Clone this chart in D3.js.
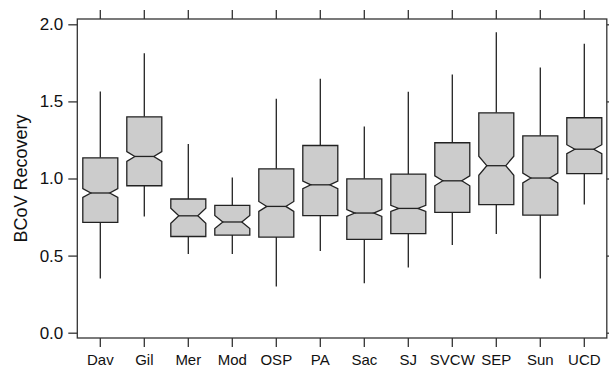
<!DOCTYPE html>
<html>
<head>
<meta charset="utf-8">
<script src="https://cdn.jsdelivr.net/npm/d3@7"></script>
<style>
  html, body { margin: 0; padding: 0; background: #fff; }
  svg { display: block; }
  text { font-family: "Liberation Sans", Arial, Helvetica, sans-serif; fill: #111; }
</style>
</head>
<body>
<svg id="chart" width="609" height="368"></svg>
<script>
const categories  = ["Dav","Gil","Mer","Mod","OSP","PA","Sac","SJ","SVCW","SEP","Sun","UCD"];
const whiskerLow  = [0.352,0.754,0.510,0.510,0.300,0.530,0.320,0.423,0.568,0.640,0.352,0.832];
const q1          = [0.715,0.953,0.624,0.633,0.620,0.759,0.605,0.642,0.780,0.830,0.763,1.031];
const median      = [0.906,1.143,0.758,0.718,0.819,0.959,0.776,0.806,0.985,1.083,1.003,1.190];
const q3          = [1.134,1.400,0.867,0.826,1.063,1.214,0.998,1.029,1.232,1.426,1.277,1.394];
const whiskerHigh = [1.564,1.813,1.223,1.007,1.517,1.647,1.337,1.562,1.675,1.949,1.720,1.874];
const notchHalf   = [0.028,0.032,0.049,0.042,0.032,0.025,0.022,0.020,0.032,0.062,0.032,0.029];
const yTicks      = [0.0, 0.5, 1.0, 1.5, 2.0];
const yLabel      = "BCoV Recovery";

const svg = d3.select("#chart");
const frame = {left: 77.3, right: 606.8, top: 19, bottom: 338};

const y = d3.scaleLinear().domain([0, 2]).range([332.7, 24.3]);
const x = d3.scaleBand().domain(categories).range([78.3, 606.3]).padding(0);

const stroke = "#222";

// boxes
const boxW = 35, notchInset = 8;
const data = categories.map((c, i) => ({
  c, lo: whiskerLow[i], q1: q1[i], med: median[i], q3: q3[i], hi: whiskerHigh[i], n: notchHalf[i]
}));

const g = svg.append("g");
data.forEach(d => {
  const cx = x(d.c) + x.bandwidth() / 2;
  const l = cx - boxW / 2, r = cx + boxW / 2;
  g.append("line").attr("x1", cx).attr("x2", cx).attr("y1", y(d.q3)).attr("y2", y(d.hi))
    .attr("stroke", stroke).attr("stroke-width", 1.3);
  g.append("line").attr("x1", cx).attr("x2", cx).attr("y1", y(d.q1)).attr("y2", y(d.lo))
    .attr("stroke", stroke).attr("stroke-width", 1.3);
  const pts = [
    [l, y(d.q3)], [r, y(d.q3)], [r, y(d.med + d.n)], [r - notchInset, y(d.med)],
    [r, y(d.med - d.n)], [r, y(d.q1)], [l, y(d.q1)], [l, y(d.med - d.n)],
    [l + notchInset, y(d.med)], [l, y(d.med + d.n)]
  ];
  g.append("path").attr("d", d3.line()(pts) + "Z")
    .attr("fill", "#cccccc").attr("stroke", stroke).attr("stroke-width", 1.3)
    .attr("stroke-linejoin", "miter");
  g.append("line").attr("x1", l + notchInset).attr("x2", r - notchInset)
    .attr("y1", y(d.med)).attr("y2", y(d.med))
    .attr("stroke", stroke).attr("stroke-width", 1.3);
});

// frame
svg.append("rect").attr("x", frame.left).attr("y", frame.top)
  .attr("width", frame.right - frame.left).attr("height", frame.bottom - frame.top)
  .attr("fill", "none").attr("stroke", "#333").attr("stroke-width", 1.3);

// left axis
const leftAxis = d3.axisLeft(y).tickValues(yTicks).tickFormat(d3.format(".1f")).tickSize(9).tickPadding(5);
const la = svg.append("g").attr("transform", `translate(${frame.left},0)`).call(leftAxis);
la.select(".domain").remove();
la.selectAll("line").attr("stroke", "#333").attr("stroke-width", 1.3);
la.selectAll("text").style("font-size", "17px").attr("fill", "#111");

// right axis
const rightAxis = d3.axisRight(y).tickValues(yTicks).tickFormat("").tickSize(9);
const ra = svg.append("g").attr("transform", `translate(${frame.right},0)`).call(rightAxis);
ra.select(".domain").remove();
ra.selectAll("line").attr("stroke", "#333").attr("stroke-width", 1.3);

// bottom axis
const bottomAxis = d3.axisBottom(x).tickSize(9).tickPadding(7);
const ba = svg.append("g").attr("transform", `translate(0,${frame.bottom})`).call(bottomAxis);
ba.select(".domain").remove();
ba.selectAll("line").attr("stroke", "#333").attr("stroke-width", 1.3);
ba.selectAll("text").style("font-size", "15px").attr("fill", "#111");

// top axis
const topAxis = d3.axisTop(x).tickSize(9).tickFormat("");
const ta = svg.append("g").attr("transform", `translate(0,${frame.top})`).call(topAxis);
ta.select(".domain").remove();
ta.selectAll("line").attr("stroke", "#333").attr("stroke-width", 1.3);

// y label
svg.append("text")
  .attr("transform", `translate(27,${y(1.0)}) rotate(-90)`)
  .attr("text-anchor", "middle")
  .style("font-size", "18px")
  .text(yLabel);
</script>
</body>
</html>
